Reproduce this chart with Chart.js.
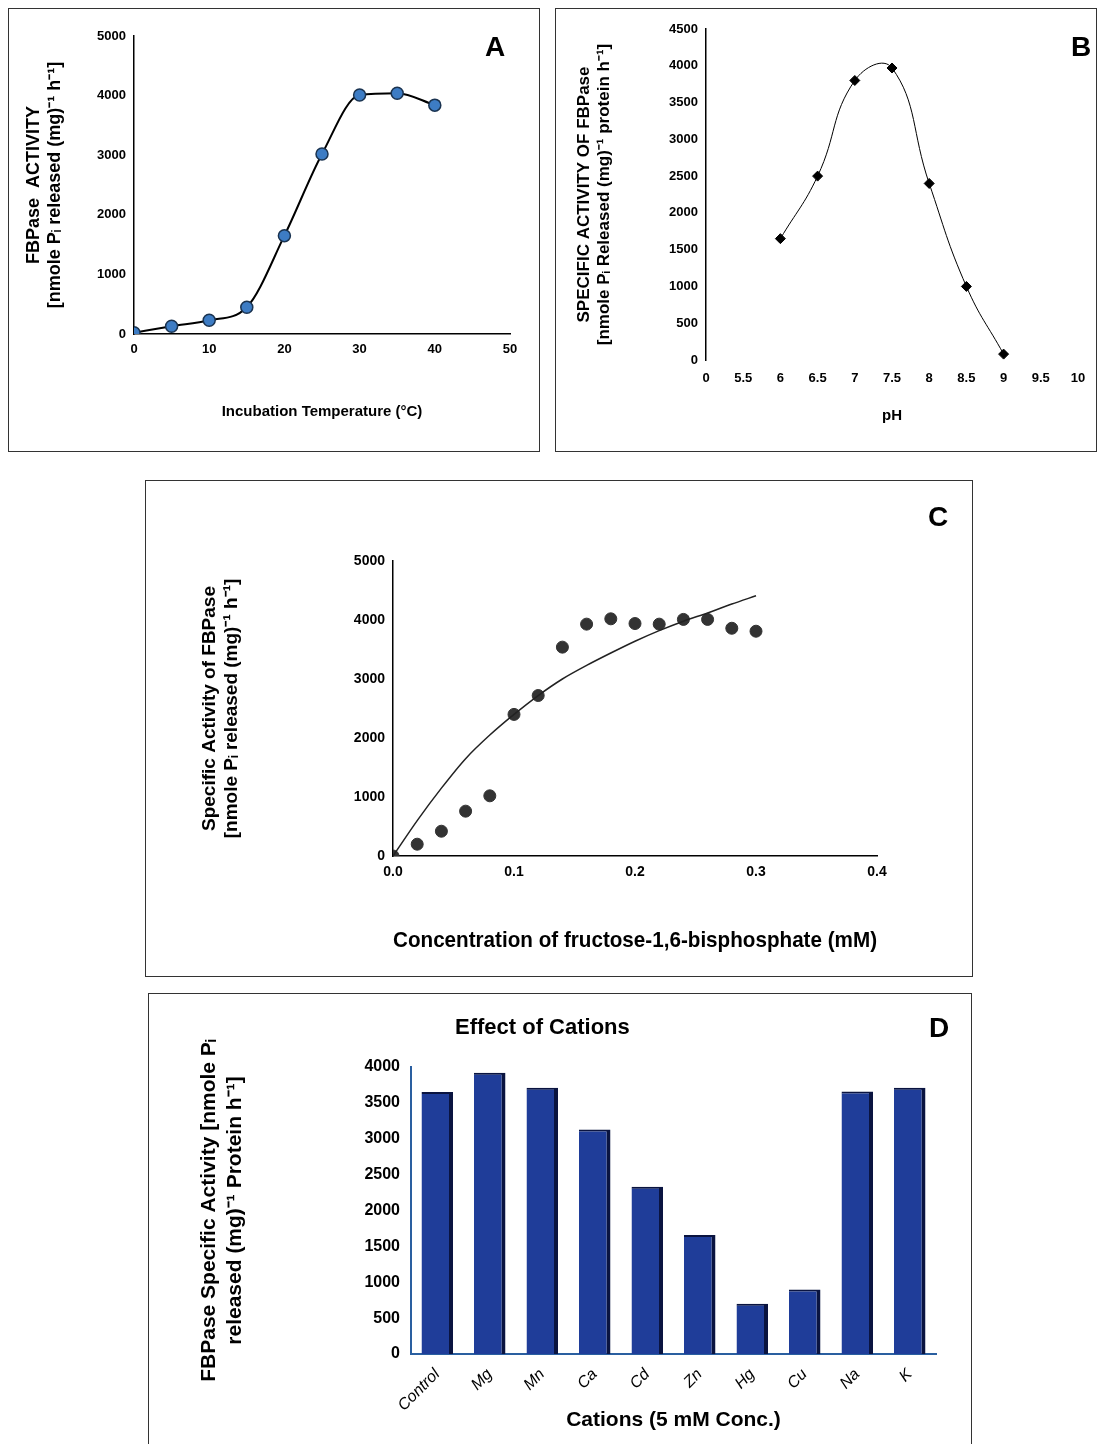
<!DOCTYPE html>
<html><head><meta charset="utf-8">
<script src="https://cdn.jsdelivr.net/npm/chart.js@4"></script>
<style>
body{margin:0;background:#fff;width:1099px;height:1444px;position:relative;font-family:"Liberation Sans",Arial,sans-serif}
.box{position:absolute;border:1.5px solid #333;box-sizing:border-box}
.box canvas{position:absolute;left:0;top:0}
.lab{position:absolute;font-family:"Liberation Sans",Arial,sans-serif;font-weight:bold;font-size:28px;color:#000}
.ttl{position:absolute;font-family:"Liberation Sans Narrow","Liberation Sans",sans-serif;font-weight:bold;font-size:22px}
</style></head><body>
<div class="box" style="left:8px;top:8px;width:532px;height:444px"><canvas id="cA"></canvas><div class="lab" style="left:476px;top:22px">A</div></div>
<div class="box" style="left:555px;top:8px;width:542px;height:444px"><canvas id="cB"></canvas><div class="lab" style="left:515px;top:22px">B</div></div>
<div class="box" style="left:145px;top:480px;width:828px;height:497px"><canvas id="cC"></canvas><div class="lab" style="left:782px;top:20px">C</div></div>
<div class="box" style="left:148px;top:993px;width:824px;height:451px;border-bottom:none"><canvas id="cD"></canvas><div class="lab" style="left:780px;top:18px">D</div><div class="ttl" style="left:306px;top:20px">Effect of Cations</div></div>
<script>
// Panel A: temperature
var tempC = [0, 5, 10, 15, 20, 25, 30, 35, 40];
var tempActivity = [20, 130, 230, 450, 1650, 3020, 4010, 4040, 3840];
// Panel B: pH (tick labels are evenly spaced, so points sit at label positions)
var phTicks = ['0', '5.5', '6', '6.5', '7', '7.5', '8', '8.5', '9', '9.5', '10'];
var phValues = ['6', '6.5', '7', '7.5', '8', '8.5', '9'];
var phActivity = [1650, 2500, 3800, 3970, 2400, 1000, 80];
// Panel C: substrate concentration
var concMM = [0, 0.02, 0.04, 0.06, 0.08, 0.10, 0.12, 0.14, 0.16, 0.18, 0.20, 0.22, 0.24, 0.26, 0.28, 0.30];
var concActivity = [0, 200, 420, 760, 1020, 2400, 2720, 3540, 3930, 4020, 3940, 3930, 4010, 4010, 3860, 3810];
var concFit = [0, 600, 1150, 1650, 2050, 2400, 2720, 3000, 3230, 3440, 3640, 3820, 3980, 4120, 4270, 4410];
// Panel D: cations
var cations = ['Control', 'Mg', 'Mn', 'Ca', 'Cd', 'Zn', 'Hg', 'Cu', 'Na', 'K'];
var cationActivity = [3650, 3920, 3710, 3130, 2330, 1660, 700, 900, 3660, 3710];

var F = '"Liberation Sans", Arial, sans-serif';
var N = '"Liberation Sans Narrow", ' + F;
Chart.defaults.font.family = F;
Chart.defaults.color = '#000';
Chart.defaults.animation = false;

function pts(xs, ys) { return xs.map((x, i) => ({x: x, y: ys[i]})); }

function make(id, W, H, area, padBottom, padLeft, cfg) {
    var c = document.getElementById(id);
    c.width = W; c.height = H;
    cfg.options.responsive = false;
    cfg.options.devicePixelRatio = 1;
    cfg.options.layout = {padding: {left: padLeft, top: area.top, right: W - area.right, bottom: padBottom}};
    cfg.options.plugins = Object.assign({legend: {display: false}, tooltip: {enabled: false}}, cfg.options.plugins || {});
    cfg.options.scales.y.afterFit = s => { s.width = area.left - padLeft; };
    cfg.options.scales.x.afterFit = s => { s.height = H - area.bottom - padBottom; };
    return new Chart(c.getContext('2d'), cfg);
}

function axisStyle(min, max, step, font, title, titleFont, titlePad) {
    return {
        type: 'linear', min: min, max: max,
        ticks: {stepSize: step, font: font, color: '#000', callback: v => String(v)},
        grid: {display: false, drawTicks: true, tickLength: 5, tickColor: '#000'},
        border: {color: '#000', width: 1.5},
        title: {display: true, text: title, font: titleFont, padding: titlePad || 4}
    };
}

make('cA', 532, 444, {left: 125, right: 501, top: 27, bottom: 325}, 28, 10, {
    type: 'line',
    data: {datasets: [{
        data: pts(tempC, tempActivity),
        borderColor: '#000', borderWidth: 2,
        cubicInterpolationMode: 'monotone',
        pointRadius: 6, pointBackgroundColor: '#3d7cc4', pointBorderColor: '#1a3350', pointBorderWidth: 1.5
    }]},
    options: {scales: {
        x: axisStyle(0, 50, 10, {weight: 'bold', size: 13}, 'Incubation Temperature (°C)', {weight: 'bold', size: 15}, {top: 14}),
        y: axisStyle(0, 5000, 1000, {weight: 'bold', size: 13}, ['FBPase  ACTIVITY', '[nmole Pᵢ released (mg)⁻¹ h⁻¹]'], {weight: 'bold', size: 18}, 0)
    }}
});
make('cB', 542, 444, {left: 150, right: 522, top: 20, bottom: 351}, 24, 14, {
    type: 'line',
    data: {labels: phTicks, datasets: [{
        data: pts(phValues, phActivity),
        borderColor: '#000', borderWidth: 1,
        tension: 0.45,
        pointStyle: 'rectRot', pointRadius: 5, pointBackgroundColor: '#000', pointBorderColor: '#000'
    }]},
    options: {scales: {
        x: {
            type: 'category', offset: false,
            ticks: {font: {weight: 'bold', size: 13}, color: '#000', maxRotation: 0, autoSkip: false},
            grid: {display: false}, border: {display: false},
            title: {display: true, text: 'pH', font: {weight: 'bold', size: 15}, padding: {top: 2}}
        },
        y: axisStyle(0, 4500, 500, {weight: 'bold', size: 13}, ['SPECIFIC ACTIVITY OF FBPase', '[nmole Pᵢ Released (mg)⁻¹ protein h⁻¹]'], {weight: 'bold', size: 17}, 0)
    }}
});
make('cC', 828, 497, {left: 247, right: 731, top: 80, bottom: 375}, 20, 48, {
    type: 'scatter',
    data: {datasets: [
        {data: pts(concMM, concFit), showLine: true, borderColor: '#222', borderWidth: 1.5, tension: 0.3, pointRadius: 0},
        {data: pts(concMM, concActivity), pointRadius: 6, pointBackgroundColor: '#333', pointBorderColor: '#333'}
    ]},
    options: {scales: {
        x: Object.assign(axisStyle(0, 0.4, 0.1, {weight: 'bold', size: 14}, 'Concentration of fructose-1,6-bisphosphate (mM)', {weight: 'bold', size: 22}, {top: 40}), {
            ticks: {stepSize: 0.1, font: {weight: 'bold', size: 14}, color: '#000', callback: v => v.toFixed(1)}
        }),
        y: axisStyle(0, 5000, 1000, {weight: 'bold', size: 14}, ['Specific Activity of FBPase', '[nmole Pᵢ released (mg)⁻¹ h⁻¹]'], {weight: 'bold', size: 19}, 0)
    }}
});
make('cD', 824, 451, {left: 262, right: 787, top: 73, bottom: 360}, 8, 44, {
    type: 'bar',
    data: {labels: cations, datasets: [{
        data: cationActivity,
        backgroundColor: '#1f3d99', borderColor: '#0a1440', borderWidth: {right: 4, top: 2, left: 0, bottom: 0},
        barPercentage: 0.6, categoryPercentage: 1
    }]},
    options: {
        scales: {
            x: {
                grid: {display: false}, border: {color: '#2a5fa0', width: 2},
                ticks: {maxRotation: 45, minRotation: 45, font: {style: 'italic', size: 16, family: N}, color: '#000'},
                title: {display: true, text: 'Cations (5 mM Conc.)', font: {weight: 'bold', size: 21, family: N}, padding: {top: 4}}
            },
            y: {
                min: 0, max: 4000,
                ticks: {stepSize: 500, font: {weight: 'bold', size: 16, family: N}, color: '#000', callback: v => String(v)},
                grid: {display: false}, border: {color: '#2a5fa0', width: 2},
                title: {display: true, text: ['FBPase Specific Activity [nmole Pᵢ', 'released (mg)⁻¹ Protein h⁻¹]'], font: {weight: 'bold', size: 21}, padding: {bottom: 0}}
            }
        }
    }
});
</script>
</body></html>
